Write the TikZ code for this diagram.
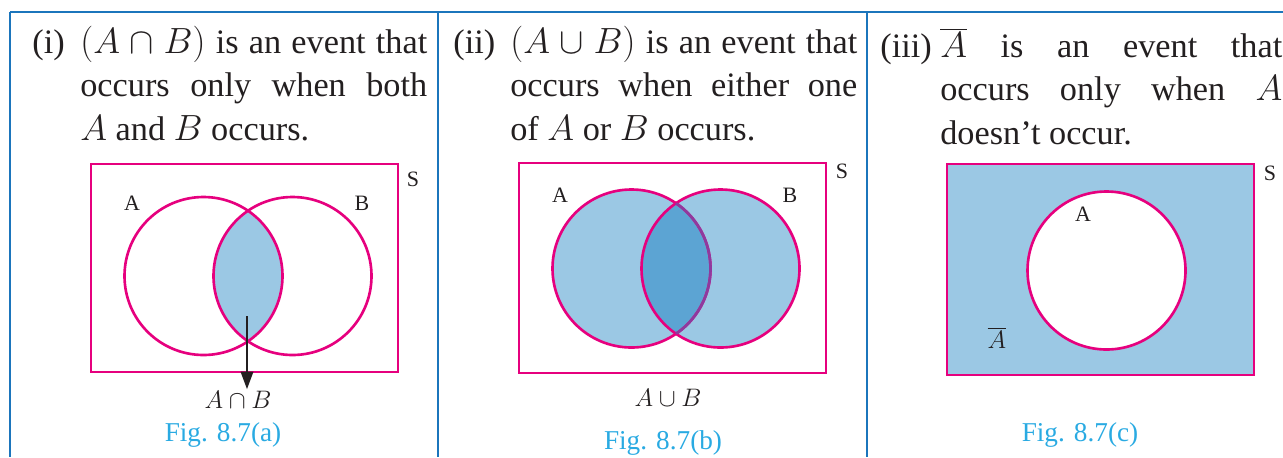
\documentclass[tikz,border=0pt]{standalone}
\usepackage{fontspec}
\setmainfont{Liberation Serif}
\usetikzlibrary{arrows.meta}

\definecolor{frameblue}{HTML}{1B75BC}
\definecolor{setpink}{HTML}{E6007E}
\definecolor{shadeblue}{HTML}{9BC8E4}
\definecolor{deepblue}{HTML}{5CA4D3}
\definecolor{capblue}{HTML}{29AAE2}
\definecolor{mixpurple}{HTML}{8E3A9E}
\definecolor{inkgray}{HTML}{231F20}

\begin{document}
\begin{tikzpicture}[
    x=0.02cm, y=-0.02cm,
    myframe/.style={draw=frameblue, line width=1.5pt},
    myset/.style={draw=setpink, line width=1.5pt},
    mytext/.style={font=\fontsize{19.5}{25}\selectfont, text=inkgray, inner sep=0pt, anchor=base west},
    mypara/.style={mytext, text width=6.94cm, align=justify},
    mylabel/.style={font=\fontsize{12.5}{14}\selectfont, text=inkgray},
    mycap/.style={font=\fontsize{15.5}{18}\selectfont, text=capblue}
]
    \useasboundingbox (0,0) rectangle (1283,457);

    % Outer frame
    \draw[myframe] (10,12) -- (1283,12);
    \foreach \x in {10,438,867} {
        \draw[myframe] (\x,12) -- (\x,457);
    }

    % Statements
    \node[mytext] (ilab) at (32,53) {(i)};
    \node[mypara] (itext) at (80,53) {$(A\cap B)$ is an event that\linebreak
        occurs only when both\linebreak $A$ and $B$ occurs.};
    \node[mytext] (iilab) at (453,53) {(ii)};
    \node[mypara] (iitext) at (510,53) {$(A\cup B)$ is an event that\linebreak
        occurs when either one\linebreak of $A$ or $B$ occurs.};
    \node[mytext] (iiilab) at (880,57) {(iii)};
    \node[mypara, text width=6.84cm] (iiitext) at (940,57) {$\overline{A}$ is an event that\linebreak
        occurs only when $A$\linebreak doesn’t occur.};

    % (a) intersection
    \coordinate (aA) at (203.5,276);
    \coordinate (aB) at (292.5,276);
    \begin{scope}
        \clip (aA) circle (79);
        \fill[shadeblue] (aB) circle (79);
    \end{scope}
    \draw[myset] (91,164) rectangle (398,372);
    \draw[myset] (aA) circle (79);
    \draw[myset] (aB) circle (79);
    \node[mylabel] (asetA) at (132,203) {A};
    \node[mylabel] (asetB) at (362,203) {B};
    \node[mylabel] (asetS) at (413,179) {S};
    \coordinate (atip) at (247,316);
    \node[font=\fontsize{14}{16}\selectfont, text=inkgray, inner sep=1pt] (acap) at (238,400) {$A\cap B$};
    \draw[inkgray, line width=1.4pt, -{Triangle[length=10pt, width=7pt]}] (atip) -- (atip |- acap.north);
    \node[mycap] (afig) at (223,435) {Fig. 8.7(a)};

    % (b) union
    \coordinate (bA) at (631.5,268.5);
    \coordinate (bB) at (720.5,268.5);
    \fill[shadeblue] (bA) circle (79) (bB) circle (79);
    \begin{scope}
        \clip (bA) circle (79);
        \fill[deepblue] (bB) circle (79);
    \end{scope}
    \draw[myset] (519,163) rectangle (826,373);
    \draw[myset] (bA) circle (79);
    \draw[myset] (bB) circle (79);
    \begin{scope}
        \clip (bB) circle (79);
        \draw[myset, draw=mixpurple] (bA) circle (79);
    \end{scope}
    \node[mylabel] (bsetA) at (560,195) {A};
    \node[mylabel] (bsetB) at (790,195) {B};
    \node[mylabel] (bsetS) at (842,171) {S};
    \node[font=\fontsize{14}{16}\selectfont, text=inkgray] (bcup) at (668,398) {$A\cup B$};
    \node[mycap] (bfig) at (663,443) {Fig. 8.7(b)};

    % (c) complement
    \coordinate (cA) at (1106.5,270.5);
    \fill[shadeblue] (947,164) rectangle (1254,375);
    \fill[white] (cA) circle (79);
    \draw[myset] (947,164) rectangle (1254,375);
    \draw[myset] (cA) circle (79);
    \node[mylabel] (csetA) at (1083,214) {A};
    \node[mylabel] (csetS) at (1270,173) {S};
    \node[font=\fontsize{15}{18}\selectfont, text=inkgray] (cbar) at (997,338) {$\overline{A}$};
    \node[mycap] (cfig) at (1080,435) {Fig. 8.7(c)};
\end{tikzpicture}
\end{document}
